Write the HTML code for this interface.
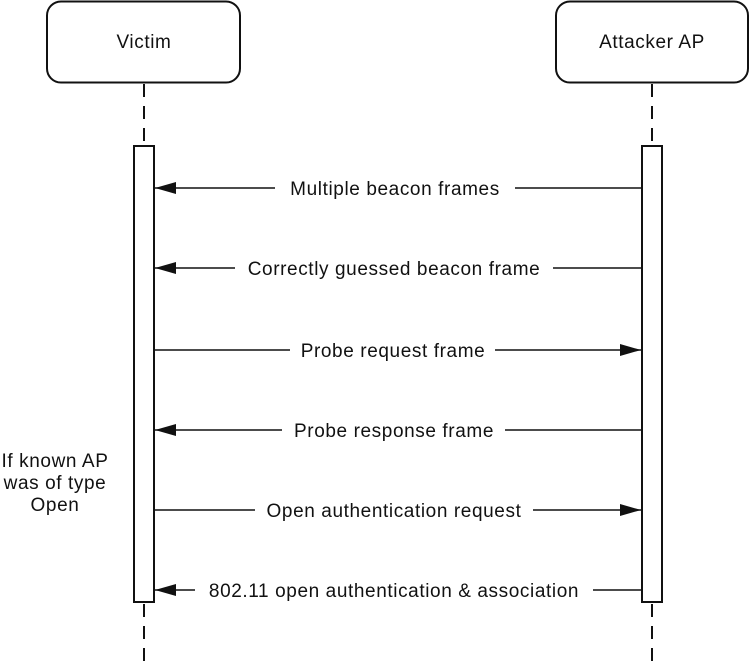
<!DOCTYPE html>
<html><head><style>body{margin:0;background:#fff}</style></head><body>
<svg width="750" height="661" xmlns="http://www.w3.org/2000/svg" font-family="Liberation Sans, sans-serif" font-size="19" letter-spacing="0.6" fill="#111">
<rect x="47" y="1.5" width="193" height="81" rx="14" fill="#fff" stroke="#111" stroke-width="2"/>
<rect x="556" y="1.5" width="192" height="81" rx="14" fill="#fff" stroke="#111" stroke-width="2"/>
<text x="144" y="48" text-anchor="middle">Victim</text>
<text x="652" y="48" text-anchor="middle">Attacker AP</text>
<g stroke="#111" stroke-width="2" stroke-dasharray="13 9">
<line x1="144" y1="84" x2="144" y2="146"/><line x1="652" y1="84" x2="652" y2="146"/>
<line x1="144" y1="604" x2="144" y2="661"/><line x1="652" y1="604" x2="652" y2="661"/>
</g>
<rect x="134" y="146" width="20" height="456" fill="#fff" stroke="#111" stroke-width="2"/>
<rect x="642" y="146" width="20" height="456" fill="#fff" stroke="#111" stroke-width="2"/>
<g stroke="#111" stroke-width="1.6">
<line x1="155" y1="188" x2="275" y2="188"/><line x1="515" y1="188" x2="641" y2="188"/>
<line x1="155" y1="268" x2="235" y2="268"/><line x1="553" y1="268" x2="641" y2="268"/>
<line x1="155" y1="350" x2="290" y2="350"/><line x1="495" y1="350" x2="641" y2="350"/>
<line x1="155" y1="430" x2="282" y2="430"/><line x1="505" y1="430" x2="641" y2="430"/>
<line x1="155" y1="510" x2="255" y2="510"/><line x1="533" y1="510" x2="641" y2="510"/>
<line x1="155" y1="590" x2="195" y2="590"/><line x1="593" y1="590" x2="641" y2="590"/>
</g>
<g fill="#111">
<polygon points="155,188 176,182 176,194"/>
<polygon points="155,268 176,262 176,274"/>
<polygon points="641,350 620,344 620,356"/>
<polygon points="155,430 176,424 176,436"/>
<polygon points="641,510 620,504 620,516"/>
<polygon points="155,590 176,584 176,596"/>
</g>
<g text-anchor="middle">
<text x="395" y="195">Multiple beacon frames</text>
<text x="394" y="275">Correctly guessed beacon frame</text>
<text x="393" y="357">Probe request frame</text>
<text x="394" y="437">Probe response frame</text>
<text x="394" y="517">Open authentication request</text>
<text x="394" y="597">802.11 open authentication &amp; association</text>
<text x="55" y="467">If known AP</text>
<text x="55" y="489">was of type</text>
<text x="55" y="511">Open</text>
</g>
</svg>
</body></html>
